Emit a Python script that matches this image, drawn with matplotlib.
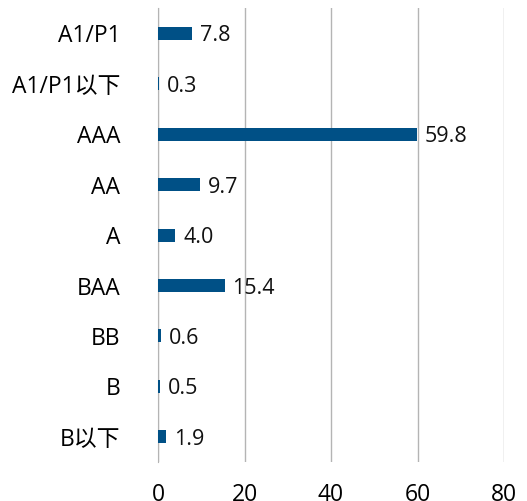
import matplotlib
matplotlib.use("Agg")
import matplotlib.pyplot as plt

plt.rcParams['font.family'] = ['Open Sans', 'Noto Sans CJK SC', 'DejaVu Sans']

categories = ["A1/P1", "A1/P1以下", "AAA", "AA", "A", "BAA", "BB", "B", "B以下"]
values = [7.8, 0.3, 59.8, 9.7, 4.0, 15.4, 0.6, 0.5, 1.9]
xticks = [0, 20, 40, 60, 80]

fig = plt.figure(figsize=(5.27, 5.01), dpi=100)
ax = fig.add_axes([0.2998, 0.0778, 0.6566, 0.906])

pos = list(range(len(categories)))
ax.barh(pos, values, height=0.26, color='#005086', zorder=3)
for p, v in zip(pos, values):
    ax.text(v + 1.8, p + 0.05, f"{v:.1f}", va='center', ha='left', fontsize=15.5, color='#111111', zorder=4)

ax.set_ylim(len(categories) - 0.5, -0.5)
ax.set_xlim(0, 80)
ax.set_yticks(pos)
ax.set_yticklabels(categories, fontsize=16.5)
ax.set_xticks(xticks)
ax.set_xticklabels([str(t) for t in xticks], fontsize=16.5)
ax.tick_params(length=0)
ax.tick_params(axis='y', pad=27)
ax.tick_params(axis='x', pad=15)
ax.xaxis.grid(True, color='#b4b4b4', linewidth=1.0, zorder=0)
for s in ['top', 'right', 'bottom']:
    ax.spines[s].set_visible(False)
ax.spines['left'].set_color('#b4b4b4')

fig.savefig("out.png", dpi=100)
